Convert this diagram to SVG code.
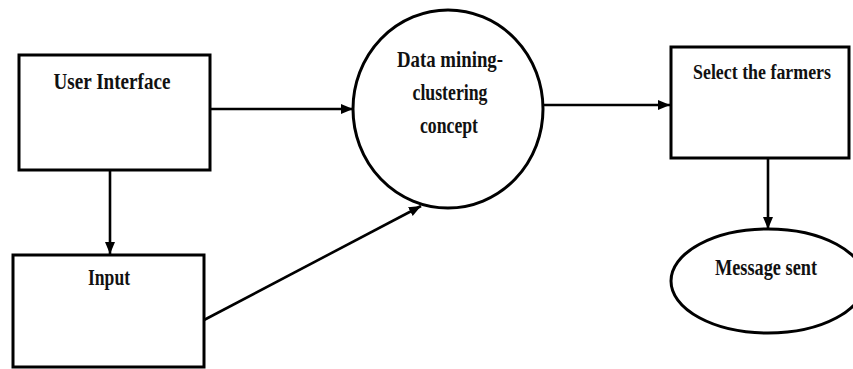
<svg xmlns="http://www.w3.org/2000/svg" width="853" height="369" viewBox="0 0 853 369">
  <style>
    .shape { fill: #ffffff; stroke: #000000; stroke-width: 3; }
    .edge { fill: none; stroke: #000000; stroke-width: 2.6; }
    .label { font-family: "Liberation Serif", "Times New Roman", serif; font-weight: bold; font-size: 23px; fill: #111111; text-anchor: middle; }
    .label.tight { font-size: 20px; }
  </style>
  <defs>
    <marker id="arrow" markerUnits="userSpaceOnUse" markerWidth="14" markerHeight="12" refX="12" refY="5" orient="auto">
      <path d="M0,0 L12,5 L0,10 Z" fill="#000000"/>
    </marker>
  </defs>
  <rect width="853" height="369" fill="#ffffff"/>

  <g id="connectors">
    <line class="edge" x1="210" y1="109" x2="353" y2="109" marker-end="url(#arrow)"/>
    <line class="edge" x1="110" y1="170" x2="110" y2="254" marker-end="url(#arrow)"/>
    <line class="edge" x1="204" y1="320" x2="421" y2="206" marker-end="url(#arrow)"/>
    <line class="edge" x1="542" y1="105" x2="670" y2="105" marker-end="url(#arrow)"/>
    <line class="edge" x1="768" y1="158" x2="768" y2="229" marker-end="url(#arrow)"/>
  </g>

  <g id="user-interface">
    <rect class="shape" x="19" y="55" width="191" height="115"/>
    <text class="label" x="112" y="89" textLength="117" lengthAdjust="spacingAndGlyphs">User Interface</text>
  </g>

  <g id="input">
    <rect class="shape" x="13" y="255" width="191" height="112"/>
    <text class="label" x="109" y="285" textLength="42" lengthAdjust="spacingAndGlyphs">Input</text>
  </g>

  <g id="data-mining">
    <ellipse class="shape" cx="448" cy="109" rx="95" ry="99"/>
    <text class="label" x="450" y="67" textLength="106" lengthAdjust="spacingAndGlyphs">Data mining-</text>
    <text class="label" x="450" y="100" textLength="75" lengthAdjust="spacingAndGlyphs">clustering</text>
    <text class="label" x="449" y="133" textLength="58" lengthAdjust="spacingAndGlyphs">concept</text>
  </g>

  <g id="select-farmers">
    <rect class="shape" x="671" y="47" width="178" height="111"/>
    <text class="label tight" x="762" y="79" textLength="138" lengthAdjust="spacingAndGlyphs">Select the farmers</text>
  </g>

  <g id="message-sent">
    <ellipse class="shape" cx="768" cy="281" rx="97" ry="52"/>
    <text class="label" x="766" y="275" textLength="102" lengthAdjust="spacingAndGlyphs">Message sent</text>
  </g>
</svg>
